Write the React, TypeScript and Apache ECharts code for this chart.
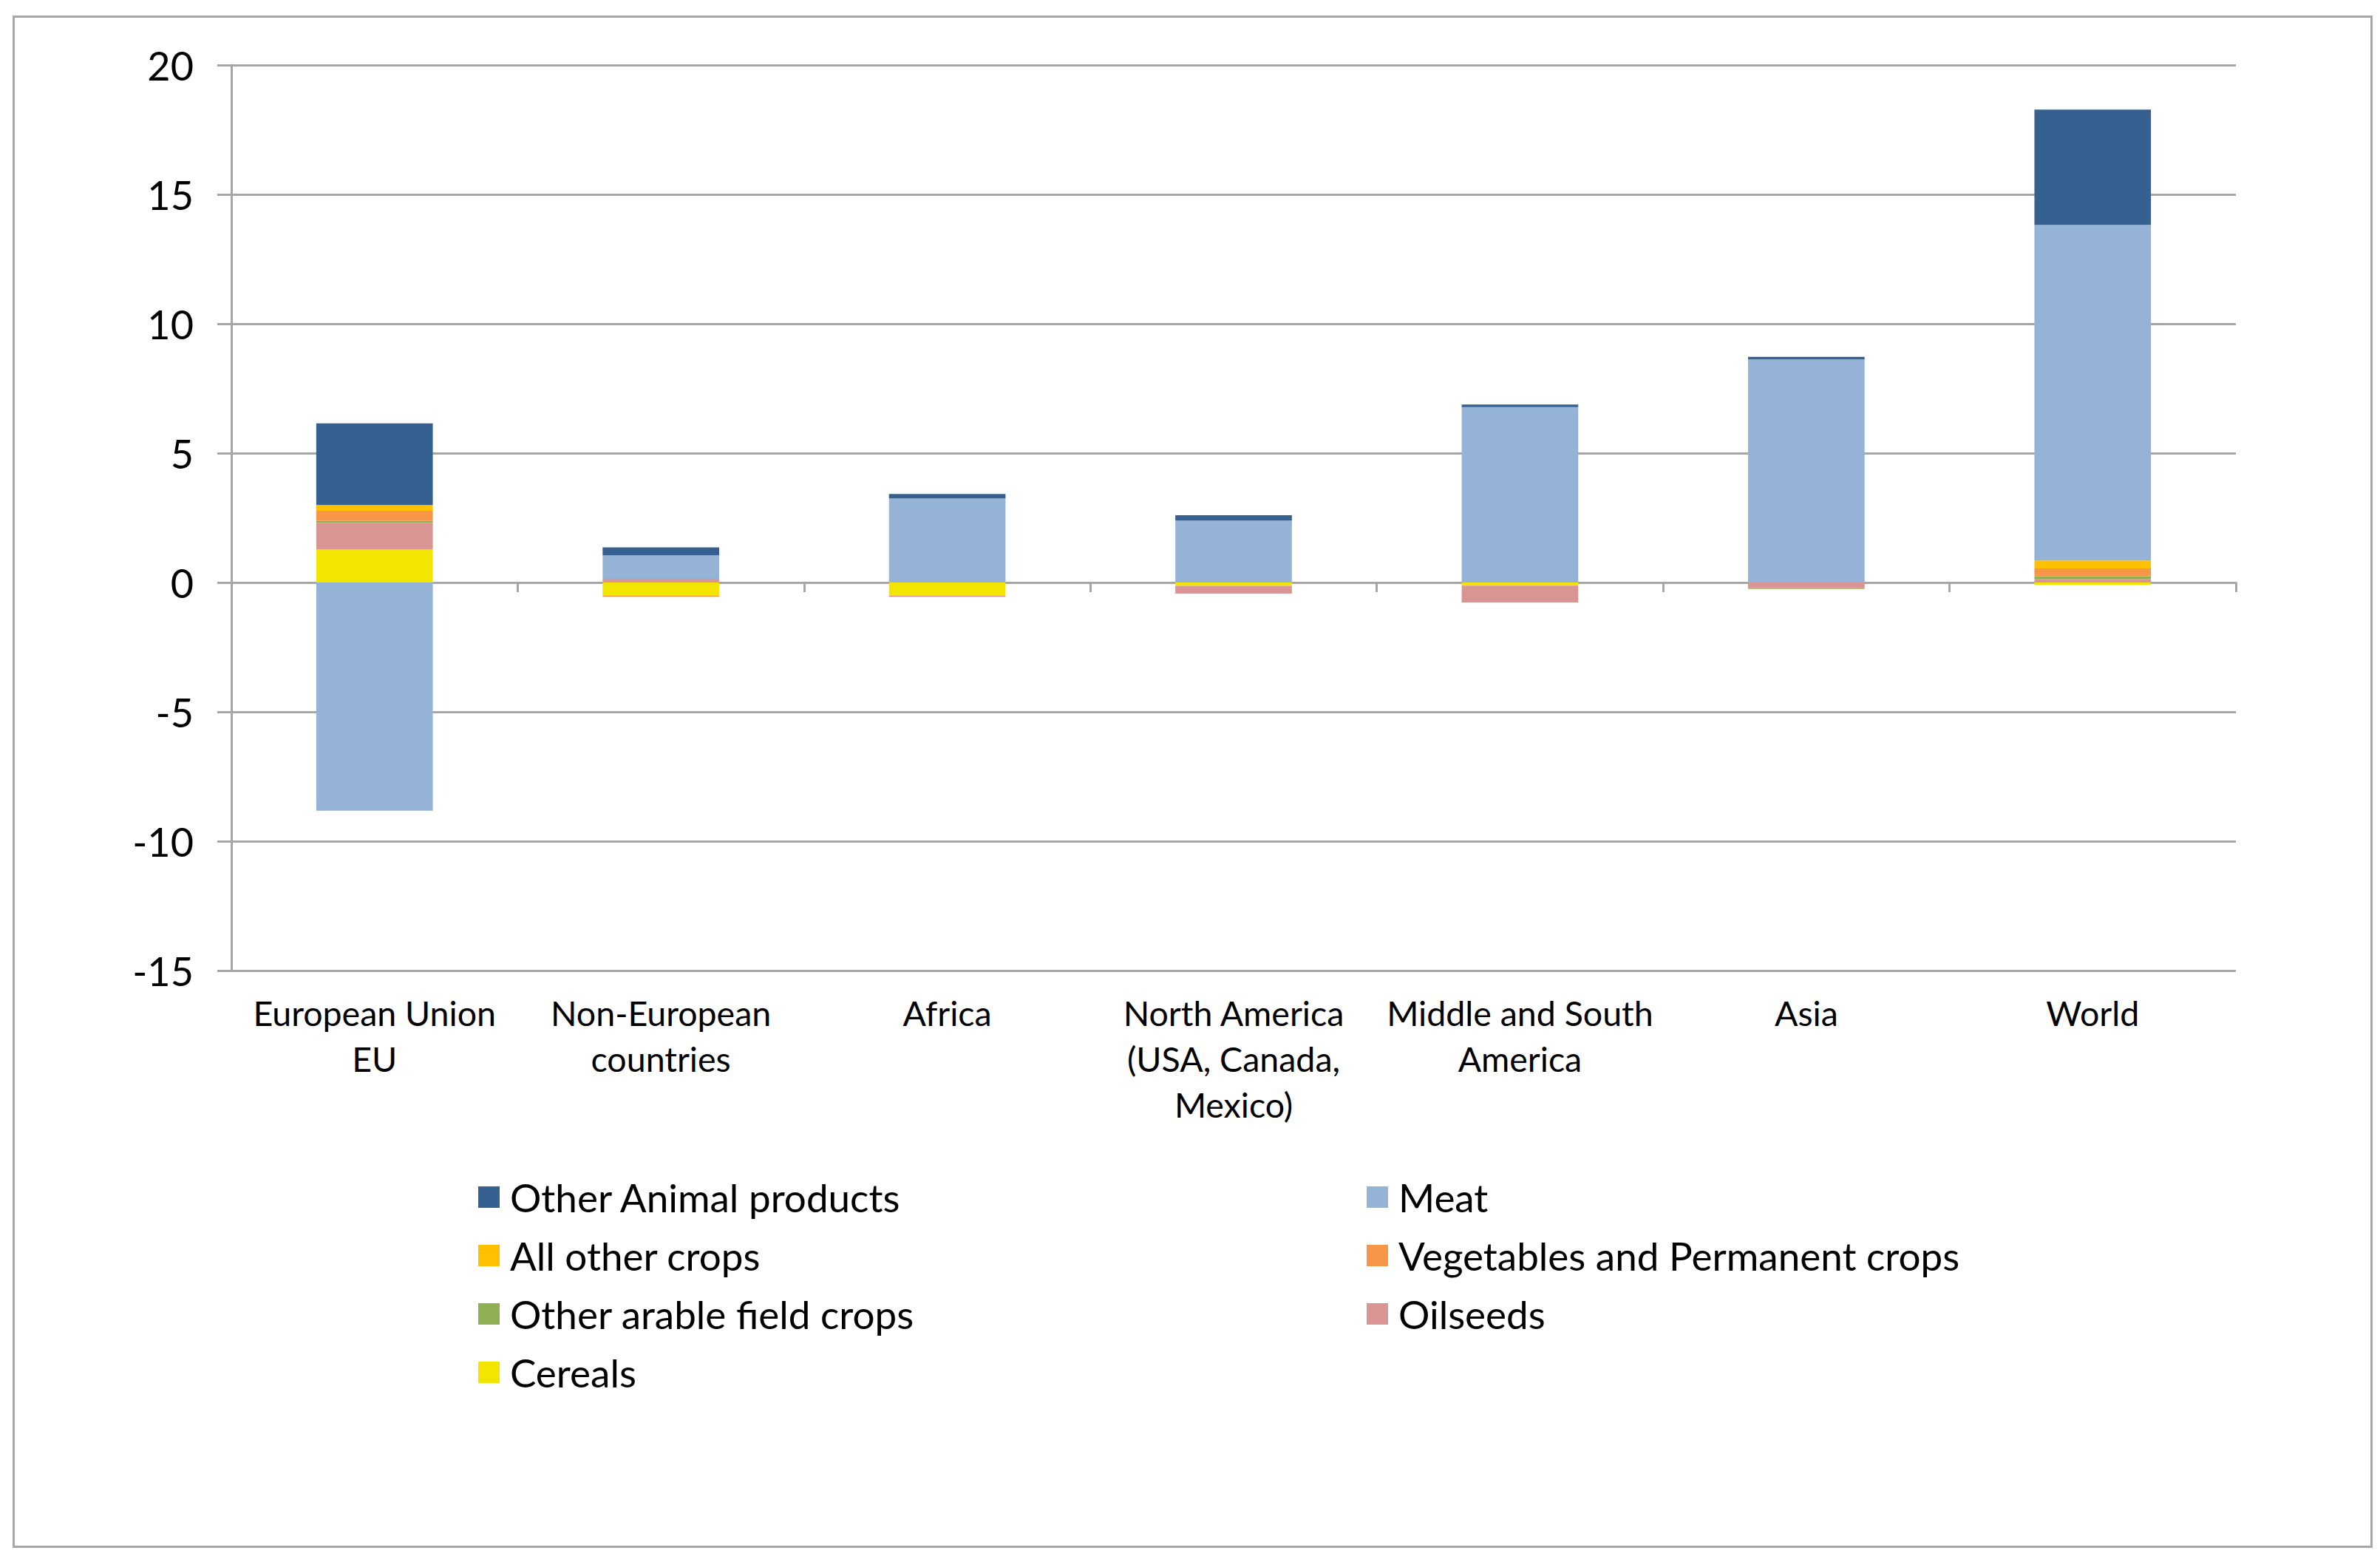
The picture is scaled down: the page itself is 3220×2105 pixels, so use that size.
import React, { useEffect, useRef } from "react";
import * as echarts from "echarts";

const categories = [
  "European Union\nEU",
  "Non-European\ncountries",
  "Africa",
  "North America\n(USA, Canada,\nMexico)",
  "Middle and South\nAmerica",
  "Asia",
  "World",
];

const cereals = [1.27, -0.51, -0.51, -0.13, -0.12, 0, -0.1];
const oilseeds = [1.03, 0.14, -0.05, -0.3, -0.65, -0.22, 0.13];
const otherArable = [0.08, 0, 0, 0, 0, -0.03, 0.11];
const vegetables = [0.39, -0.04, 0, 0, 0, 0, 0.3];
const allOtherCrops = [0.22, 0, 0, 0, 0, 0, 0.31];
const meat = [-8.82, 0.91, 3.25, 2.39, 6.78, 8.62, 12.97];
const otherAnimal = [3.16, 0.31, 0.17, 0.21, 0.1, 0.1, 4.46];

const yTicks = { min: -15, max: 20, interval: 5 };

const seriesDefs = [
  { name: "Cereals", data: cereals, color: "#F2E500" },
  { name: "Oilseeds", data: oilseeds, color: "#D99594" },
  { name: "Other arable field crops", data: otherArable, color: "#8FAF55" },
  { name: "Vegetables and Permanent crops", data: vegetables, color: "#F79646" },
  { name: "All other crops", data: allOtherCrops, color: "#FFC000" },
  { name: "Meat", data: meat, color: "#95B3D7" },
  { name: "Other Animal products", data: otherAnimal, color: "#35608F" },
];

const legendLeft = ["Other Animal products", "All other crops", "Other arable field crops", "Cereals"];
const legendRight = ["Meat", "Vegetables and Permanent crops", "Oilseeds"];

const FONT = "Lato, Carlito, 'Noto Sans', sans-serif";
const GRID_COLOR = "#a6a6a6";

export default function App() {
  const ref = useRef<HTMLDivElement>(null);

  useEffect(() => {
    document.body.style.margin = "0";
    if (!ref.current) return;
    const chart = echarts.init(ref.current, undefined, { renderer: "svg" });

    const legendCommon = {
      orient: "vertical" as const,
      padding: 0,
      itemGap: 0,
      itemWidth: 29,
      itemHeight: 29,
      icon: "rect",
      selectedMode: false,
      textStyle: {
        fontFamily: FONT,
        fontSize: 53,
        color: "#000",
        lineHeight: 79,
        padding: [0, 0, 0, 9],
      },
    };

    chart.setOption({
      animation: false,
      backgroundColor: "#ffffff",
      graphic: [
        {
          type: "rect",
          left: 16,
          top: 20,
          shape: { x: 0, y: 0, width: 3190, height: 2070 },
          style: { fill: "none", stroke: GRID_COLOR, lineWidth: 3 },
          silent: true,
        },
      ],
      legend: [
        { ...legendCommon, left: 647, top: 1580, data: legendLeft },
        { ...legendCommon, left: 1849, top: 1580, data: legendRight },
      ],
      grid: { left: 313, right: 195, top: 88, bottom: 792, containLabel: false },
      xAxis: [
        {
          type: "category",
          data: categories,
          position: "bottom",
          axisLine: { show: true, onZero: true, lineStyle: { color: GRID_COLOR, width: 3 } },
          axisTick: { show: true, length: 13, lineStyle: { color: GRID_COLOR, width: 3 } },
          axisLabel: { show: false },
          splitLine: { show: false },
        },
        {
          type: "category",
          data: categories,
          position: "bottom",
          axisLine: { show: false, onZero: false },
          axisTick: { show: false },
          splitLine: { show: false },
          axisLabel: {
            show: true,
            interval: 0,
            margin: 26,
            fontFamily: FONT,
            fontSize: 46.5,
            lineHeight: 62,
            color: "#000",
            align: "center",
          },
        },
      ],
      yAxis: {
        type: "value",
        min: yTicks.min,
        max: yTicks.max,
        interval: yTicks.interval,
        axisLine: { show: true, lineStyle: { color: GRID_COLOR, width: 3 } },
        axisTick: { show: true, length: 19, inside: false, lineStyle: { color: GRID_COLOR, width: 3 } },
        splitLine: { show: true, lineStyle: { color: GRID_COLOR, width: 3 } },
        axisLabel: { margin: 51, fontFamily: FONT, fontSize: 54, color: "#000" },
      },
      series: seriesDefs.map((s) => ({
        name: s.name,
        type: "bar",
        stack: "total",
        xAxisIndex: 0,
        barWidth: "40.7%",
        data: s.data,
        itemStyle: { color: s.color },
        emphasis: { disabled: true },
      })),
    });

    return () => chart.dispose();
  }, []);

  return <div ref={ref} style={{ width: 3220, height: 2105 }} />;
}
